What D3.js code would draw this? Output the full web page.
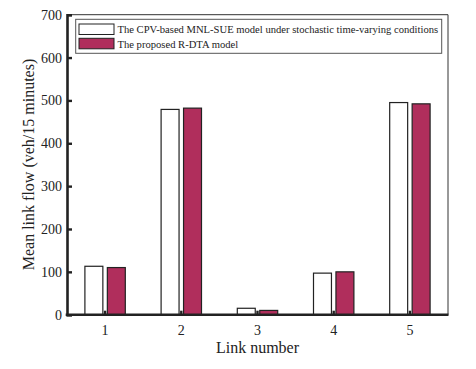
<!DOCTYPE html>
<html><head><meta charset="utf-8">
<script src="https://cdn.jsdelivr.net/npm/d3@7"></script>
<style>
html,body{margin:0;padding:0;background:#fff;}
svg text{font-family:"Liberation Serif","Times New Roman",serif;fill:#222;}
</style></head>
<body><svg id="c" width="476" height="369"></svg>
<script>
const categories = ["1","2","3","4","5"];
const seriesNames = ["The CPV-based MNL-SUE model under stochastic time-varying conditions","The proposed R-DTA model"];
const cpvValues = [113, 479, 15, 97, 495];
const rdtaValues = [110, 482, 10, 100, 492];
const yTicks = [0,100,200,300,400,500,600,700];
const seriesColors = ["#ffffff","#b02e5c"];

const svg = d3.select("#c");
const L = 67, R = 448, T = 14.7, B = 314.7;
const x = d3.scaleBand().domain(categories).range([L, R]).padding(0);
const xs = d3.scaleBand().domain([0,1]).range([-20.2, 20.2]).paddingInner(0.2);
const y = d3.scaleLinear().domain([0,700]).range([B, T]);

const data = categories.map((c,i)=>({cat:c, vals:[cpvValues[i], rdtaValues[i]]}));

// frame top/right
svg.append("line").attr("x1",L).attr("x2",R).attr("y1",T).attr("y2",T).attr("stroke","#333").attr("stroke-width",1);
svg.append("line").attr("x1",R).attr("x2",R).attr("y1",T).attr("y2",B).attr("stroke","#333").attr("stroke-width",1);

// bars
const g = svg.append("g");
data.forEach(d=>{
  d.vals.forEach((v,k)=>{
    const cx = x(d.cat) + x.bandwidth()/2;
    g.append("rect")
      .attr("x", cx + xs(k))
      .attr("y", y(v))
      .attr("width", xs.bandwidth())
      .attr("height", B - y(v))
      .attr("fill", seriesColors[k])
      .attr("stroke", "#222").attr("stroke-width", 1.2);
  });
});

// y axis
const ya = svg.append("g").attr("transform",`translate(${L},0)`)
  .call(d3.axisLeft(y).tickValues(yTicks).tickSize(-5).tickPadding(5));
ya.select(".domain").attr("stroke","#222").attr("stroke-width",2.6);
ya.selectAll(".tick line").attr("stroke","#222").attr("stroke-width",2.4);
ya.selectAll("text").style("font-size","14px").attr("fill","#222").style("font-family","Liberation Serif");

// x axis
const xa = svg.append("g").attr("transform",`translate(0,${B})`)
  .call(d3.axisBottom(x).tickSize(-4).tickPadding(10));
xa.select(".domain").attr("d",`M${L-1.3},0H${R+0.5}`).attr("stroke","#222").attr("stroke-width",2.6);
xa.selectAll(".tick line").attr("stroke","#222").attr("stroke-width",2.4);
xa.selectAll("text").style("font-size","14px").attr("fill","#222").style("font-family","Liberation Serif");

// axis titles
svg.append("text").attr("x",(L+R)/2).attr("y",353).attr("text-anchor","middle").style("font-size","16px").text("Link number");
svg.append("text").attr("transform",`translate(33.5,164.5) rotate(-90)`).attr("text-anchor","middle").style("font-size","16px").text("Mean link flow (veh/15 minutes)");

// legend
const lg = svg.append("g");
lg.append("rect").attr("x",75.7).attr("y",19.3).attr("width",366).attr("height",34).attr("fill","#fff").attr("stroke","#555").attr("stroke-width",1);
seriesNames.forEach((n,k)=>{
  lg.append("rect").attr("x",79).attr("y",24+k*14.3).attr("width",35).attr("height",10.5)
    .attr("fill",seriesColors[k]).attr("stroke","#222").attr("stroke-width",1);
  lg.append("text").attr("x",117.5).attr("y",33.3+k*14.3).style("font-size","10.6px").text(n);
});
</script></body></html>
